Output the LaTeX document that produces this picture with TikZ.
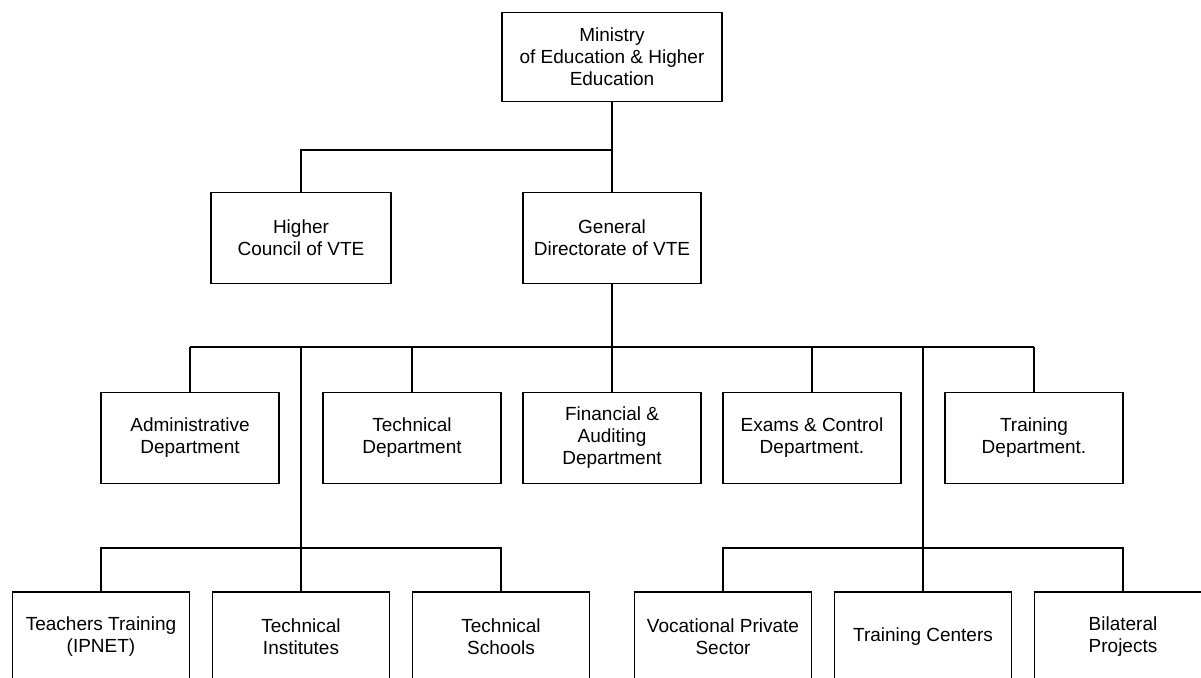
\documentclass[tikz,border=0pt]{standalone}
\usepackage{fontspec}
\setmainfont{Liberation Sans}
\usetikzlibrary{calc, positioning}

\begin{document}
\begin{tikzpicture}[x=1pt,y=-1pt,
  unit/.style={draw,line width=1.9pt,align=center,inner sep=2pt,
    font=\fontsize{19}{22}\selectfont,minimum width=178pt,minimum height=91pt},
  link/.style={line width=1.5pt},
  trunk/.style={line width=2.7pt}]
\clip (0,0) rectangle (1201,677);

\coordinate (TopBranch) at (612,150);
\coordinate (Bar) at (0,347);
\coordinate (LowBar) at (0,548);

\node[unit,minimum width=220pt,minimum height=89pt] (ministry) at (612,57)
  {Ministry\\of Education \& Higher\\Education};
\node[unit,minimum width=180pt] (council) at (301,238) {Higher\\Council of VTE};
\node[unit] (gendir) at (612,238) {General\\Directorate of VTE};

\node[unit] (admin) at (190,438) {Administrative\\Department};
\node[unit] (techdept) at (412,438) {Technical\\Department};
\node[unit] (finance) at (612,438) {Financial \&\\Auditing\\Department};
\node[unit] (exams) at (812,438) {Exams \& Control\\Department.};
\node[unit] (trainingdept) at (1034,438) {Training\\Department.};

\node[unit,minimum width=177pt,minimum height=90pt] (teachers) at (101,637) {Teachers Training\\(IPNET)};
\node[unit,minimum width=177pt,minimum height=90pt] (institutes) at (301,637) {Technical\\Institutes};
\node[unit,minimum width=177pt,minimum height=90pt] (schools) at (501,637) {Technical\\Schools};
\node[unit,minimum width=177pt,minimum height=90pt] (private) at (723,637) {Vocational Private\\Sector};
\node[unit,minimum width=177pt,minimum height=90pt] (centers) at (923,637) {Training Centers};
\node[unit,minimum width=177pt,minimum height=90pt] (bilateral) at (1123,637) {Bilateral\\Projects};

% top levels
\draw[trunk] (ministry.south) -- (gendir.north);
\draw[trunk] (council.north) |- (TopBranch);

% departments
\draw[trunk] (gendir.south) -- (finance.north);
\draw[trunk] (admin.north |- Bar) -- (trainingdept.north |- Bar);
\foreach \dept in {admin,techdept,exams,trainingdept}
  \draw[link] (\dept.north |- Bar) -- (\dept.north);

% lower units
\draw[trunk] (institutes.north |- Bar) -- (institutes.north);
\draw[trunk] (centers.north |- Bar) -- (centers.north);
\draw[link] (teachers.north) |- (LowBar -| schools.north) -- (schools.north);
\draw[link] (private.north) |- (LowBar -| bilateral.north) -- (bilateral.north);
\end{tikzpicture}
\end{document}
